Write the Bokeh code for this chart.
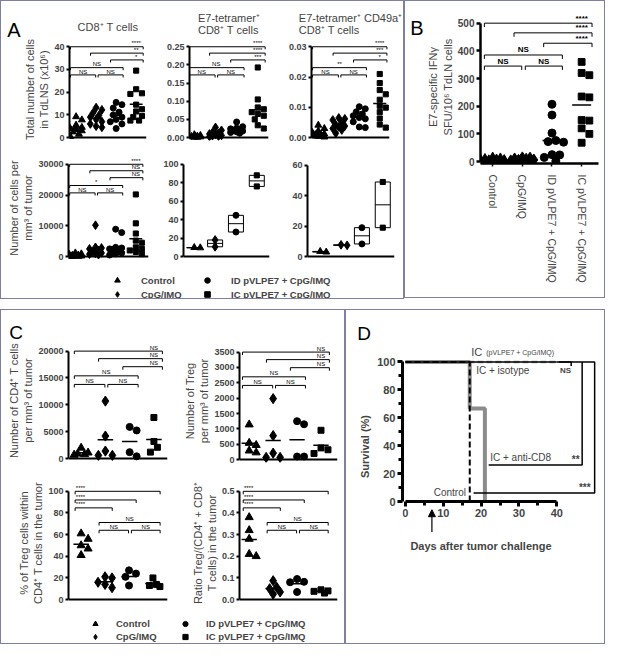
import numpy as np
from bokeh.plotting import figure
from bokeh.models import (Range1d, FixedTicker, NumeralTickFormatter, Label, Legend, Plot, Div,
                          LegendItem, Arrow, NormalHead, Spacer, Column, Row)
from bokeh.embed import file_html
from bokeh.resources import INLINE
from bokeh.core.properties import value

# ------------------------------------------------------------------ data
GROUPS = ["Control", "CpG/IMQ", "ID pVLPE7 + CpG/IMQ", "IC pVLPE7 + CpG/IMQ"]
MARKERS = ["triangle", "diamond", "circle", "square"]
PANEL_LETTERS = ["A", "B", "C", "D"]

# Panel A, top row: total number of cells in TdLNS (x10^6)
cd8_tdln = [
    [9.2, 7.8, 5.5, 4.5, 4.0, 3.5, 3.0, 2.5, 1.5, 0.5],
    [13.2, 12.2, 11.0, 9.8, 9.0, 8.0, 7.0, 6.0, 5.0, 4.5],
    [15.5, 14.5, 13.0, 11.2, 10.0, 9.0, 8.0, 7.0, 6.0, 4.0],
    [29.5, 21.3, 19.5, 19.2, 14.5, 12.5, 11.5, 9.5, 9.0, 7.5, 7.5],
]
tet_tdln = [
    [0.008, 0.006, 0.005, 0.004, 0.003, 0.003, 0.002, 0.002, 0.001, 0.001],
    [0.028, 0.020, 0.014, 0.012, 0.010, 0.008, 0.006, 0.005, 0.004, 0.003],
    [0.043, 0.030, 0.026, 0.024, 0.022, 0.020, 0.018, 0.016, 0.014, 0.012],
    [0.193, 0.105, 0.083, 0.078, 0.070, 0.065, 0.060, 0.050, 0.034, 0.025],
]
cd49a_tdln = [
    [0.0041, 0.0030, 0.0022, 0.0017, 0.0012, 0.0010, 0.0008, 0.0006, 0.0004, 0.0002],
    [0.0065, 0.0062, 0.0058, 0.0048, 0.0042, 0.0038, 0.0035, 0.0030, 0.0025, 0.0014],
    [0.0102, 0.0095, 0.0085, 0.0078, 0.0072, 0.0066, 0.0062, 0.0052, 0.0035, 0.0033],
    [0.0210, 0.0180, 0.0157, 0.0143, 0.0125, 0.0105, 0.0099, 0.0084, 0.0063, 0.0043, 0.0033],
]
# Panel A, bottom row: number of cells per mm3 of tumor
cd8_tumor = [
    [1200, 900, 700, 500, 400, 300, 200, 100, 80, 50],
    [10200, 3000, 2800, 2500, 2000, 1500, 1200, 1000, 800, 600],
    [8900, 7800, 3000, 2800, 2500, 2200, 1800, 1200, 900, 500],
    [20200, 10800, 7500, 5200, 4500, 3000, 2500, 2000, 1500, 800],
]
tet_tumor = [[9.5, 9.8], [18.0, 10.6], [44.7, 26.6], [88.0, 76.0]]
cd49a_tumor = [[3.0, 3.4], [7.4, 7.7], [19.0, 8.3], [49.0, 19.0]]

sig_cd8_tdln = ["****", "**", "*", "NS", "NS", "NS"]
sig_tet_tdln = ["****", "****", "***", "NS", "NS", "NS"]
sig_cd49a_tdln = ["****", "***", "*", "**", "NS", "NS"]
sig_cd8_tumor = ["****", "NS", "NS", "*", "NS", "NS"]

ticks_cd8_tdln = [0, 10, 20, 30, 40]
ticks_tet_tdln = [0, 0.05, 0.10, 0.15, 0.20, 0.25]
ticks_cd49a_tdln = [0, 0.01, 0.02, 0.03]
ticks_cd8_tumor = [0, 10000, 20000, 30000]
ticks_tet_tumor = [0, 20, 40, 60, 80, 100]
ticks_cd49a_tumor = [0, 20, 40, 60]

# Panel B: E7-specific IFNg SFU / 10^6 TdLN cells
ifng = [
    [15, 12, 10, 8, 6, 5, 4, 3, 2, 1],
    [14, 13, 10, 9, 6, 5, 3, 2, 1, 0],
    [207, 168, 103, 76, 72, 70, 25, 24, 15, 2],
    [360, 320, 312, 235, 232, 150, 148, 120, 100, 68],
]
sig_ifng = ["****", "****", "****", "NS", "NS", "NS"]
ticks_ifng = [0, 100, 200, 300, 400, 500]

# Panel C
cd4_tumor = [[2000, 1100, 900, 800, 700], [10700, 4200, 1400, 600, 600],
             [5900, 5240, 1200, 420], [7650, 3190, 2100, 1200]]
treg_tumor = [[1140, 540, 470, 290, 230], [1985, 780, 210, 70, 70],
              [1250, 1150, 100, 100], [955, 380, 320, 200]]
pct_treg = [[61, 56, 50, 47, 41], [21, 20, 16, 14, 11], [27, 24, 21, 13], [20, 14, 13, 12]]
ratio_treg = [[0.38, 0.32, 0.28, 0.21, 0.20], [0.087, 0.057, 0.05, 0.035, 0.025],
              [0.095, 0.082, 0.08, 0.035], [0.045, 0.04, 0.038, 0.03]]
sig_cd4 = ["NS"] * 6
sig_treg = ["NS"] * 6
sig_pct = ["****", "****", "****", "NS", "NS", "NS"]
sig_ratio = ["****", "****", "****", "NS", "NS", "NS"]
ticks_cd4 = [0, 5000, 10000, 15000, 20000]
ticks_treg = [0, 500, 1000, 1500, 2000, 2500, 3000, 3500]
ticks_pct = [0, 20, 40, 60, 80, 100]
ticks_ratio = [0, 0.1, 0.2, 0.3, 0.4, 0.5]

# Panel D: survival (%)
surv_days_ctrl = [0, 17, 17]
surv_ctrl = [100, 100, 0]
surv_days_cd8 = [0, 17, 17, 21, 21]
surv_cd8 = [100, 100, 66.7, 66.7, 0]
surv_days_iso = [0, 40]
surv_iso = [100, 100]
surv_days_ic = [0, 40]
surv_ic = [100, 100]
sig_surv = ["NS", "**", "***"]
treatment_day = 7
ticks_days = [0, 10, 20, 30, 40]
minor_days = [5, 15, 25, 35]
ticks_surv = [0, 20, 40, 60, 80, 100]
minor_surv = [10, 30, 50, 70, 90]

# ------------------------------------------------------------------ helpers
K = 0.972
FONT = "Liberation Sans"
BORDER = "1px solid #7f7f9f"
GREY = "#8c8c8c"
HAS_FRAME_ALIGN = "frame_align" in Plot.properties()


def S(v):
    return int(round(v * K))


def lin(anchor, p):
    (v0, p0), (v1, p1) = anchor
    return v0 + (p - p0) * (v1 - v0) / (p1 - p0)


def make_fig(box, frame, xa, ya):
    bl, bt, br, bb = box
    fl, ft, fr, fb = frame
    W, H = S(br - bl), S(bb - bt)
    left, top = S(fl - bl), S(ft - bt)
    right = W - left - S(fr - fl)
    bottom = H - top - S(fb - ft)
    p = figure(width=W, height=H,
               x_range=Range1d(lin(xa, fl), lin(xa, fr)),
               y_range=Range1d(lin(ya, fb), lin(ya, ft)),
               min_border_left=left, min_border_right=right,
               min_border_top=top, min_border_bottom=bottom,
               toolbar_location=None, tools="", output_backend="svg")
    if HAS_FRAME_ALIGN:
        p.frame_align = False
    p.xgrid.visible = False
    p.ygrid.visible = False
    p.outline_line_color = None
    ppx = K * (xa[1][1] - xa[0][1]) / (xa[1][0] - xa[0][0])
    ppy = K * (ya[0][1] - ya[1][1]) / (ya[1][0] - ya[0][0])
    return p, ppx, ppy


def letter_fig(box, lx, ly, text, size="20px"):
    bl, bt, br, bb = box
    w, h = br - bl, bb - bt
    if not HAS_FRAME_ALIGN:
        return Div(text=text, width=S(w), height=S(h),
                   styles={"font-family": FONT, "font-size": size, "line-height": size,
                           "padding-left": "%dpx" % S(lx - bl),
                           "padding-top": "%dpx" % max(0, S(ly - bt) - 16),
                           "box-sizing": "border-box", "color": "black"})
    f = figure(width=S(w), height=S(h), title=None,
               x_range=Range1d(0, w), y_range=Range1d(0, h),
               x_axis_type=None, y_axis_type=None, toolbar_location=None, tools="",
               output_backend="svg", min_border_left=0, min_border_right=0,
               min_border_top=0, min_border_bottom=0)
    f.frame_align = False
    f.outline_line_color = None
    f.text(x=[lx - bl], y=[bb - ly], text=[text], text_font=value(FONT),
           text_font_size=size, text_baseline="alphabetic", text_align="left",
           text_color="black")
    return f


def style_y(p, ticks, fmt, label=None, font_size="9px", lw=2, tick_out=3,
            label_size="11px", label_style="normal", standoff=1, minor=None):
    ax = p.yaxis[0]
    ax.ticker = FixedTicker(ticks=ticks, minor_ticks=minor or [])
    ax.formatter = NumeralTickFormatter(format=fmt)
    ax.bounds = (ticks[0], ticks[-1])
    ax.axis_line_width = lw
    ax.major_tick_in = 0
    ax.major_tick_out = tick_out
    ax.major_tick_line_width = lw
    ax.minor_tick_in = 0
    ax.minor_tick_out = (tick_out - 1) if minor else 0
    ax.minor_tick_line_width = lw
    ax.major_label_text_font = FONT
    ax.major_label_text_font_size = font_size
    ax.major_label_text_font_style = "bold"
    ax.major_label_standoff = 2
    if label:
        ax.axis_label = label
        ax.axis_label_text_font = FONT
        ax.axis_label_text_font_size = label_size
        ax.axis_label_text_font_style = label_style
        ax.axis_label_standoff = standoff


def style_x_plain(p, lw=2):
    ax = p.xaxis[0]
    ax.ticker = FixedTicker(ticks=[])
    ax.major_label_text_font_size = "0px"
    ax.axis_line_width = lw
    ax.major_tick_out = 0
    ax.major_tick_in = 0
    ax.minor_tick_out = 0
    ax.minor_tick_in = 0
    ax.fixed_location = 0


def swarm(center, vals, ppx, ppy, size, spread):
    order = sorted(range(len(vals)), key=lambda k: (-vals[k], k))
    maxpx = spread * ppx
    step = size * 0.5
    cands = [0.0]
    n = 1
    while n * step <= maxpx + 1e-9:
        cands += [n * step, -n * step]
        n += 1
    placed = []
    xs = [0.0] * len(vals)
    for k in order:
        py = vals[k] * ppy
        best, bestscore = 0.0, -1.0
        for c in cands:
            d = min([float(np.hypot(c - qx, py - qy)) for qx, qy in placed] or [1e9])
            if d >= size * 0.95:
                best = c
                break
            if d > bestscore:
                best, bestscore = c, d
        placed.append((best, py))
        xs[k] = center + best / ppx
    return xs


MSCALE = {"triangle": 1.15, "diamond": 1.45, "circle": 1.0, "square": 0.85}


def draw_scatter(p, data, ppx, ppy, size, half=0.32, spread=0.42, mean=True):
    for gi, vals in enumerate(data):
        m = MARKERS[gi]
        xs = swarm(gi + 1, vals, ppx, ppy, size, spread)
        p.scatter(x=xs, y=vals, marker=m, size=size * MSCALE[m],
                  fill_color="black", line_color="black")
        if mean:
            mu = float(np.mean(vals))
            p.segment(x0=[gi + 1 - half], y0=[mu], x1=[gi + 1 + half], y1=[mu],
                      line_color="black", line_width=1.5)


def draw_floating(p, data, ppx, ppy, size, half=0.36):
    for gi, vals in enumerate(data):
        lo, hi, mu = min(vals), max(vals), float(np.mean(vals))
        p.quad(left=[gi + 1 - half], right=[gi + 1 + half], bottom=[lo], top=[hi],
               fill_alpha=0, line_color="black", line_width=1)
        p.segment(x0=[gi + 1 - half], y0=[mu], x1=[gi + 1 + half], y1=[mu],
                  line_color="black", line_width=1)
    draw_scatter(p, data, ppx, ppy, size, mean=False)


# (i, j, level fraction, label position)
PATTERN_1 = [(1, 4, 0.0, "end"), (2, 4, 0.07, "end"), (3, 4, 0.145, "end"),
             (1, 3, 0.23, "mid"), (1, 2, 0.31, "mid"), (2, 3, 0.31, "mid")]
PATTERN_2 = [(1, 4, 0.0, "start"), (1, 3, 0.08, "start"), (1, 2, 0.153, "start"),
             (2, 4, 0.288, "mid"), (2, 3, 0.36, "mid"), (3, 4, 0.36, "mid")]


def draw_brackets(p, pattern, labels, top, font_size="6px", bold=False,
                  lo_off=0.28, hi_off=0.35, tick=0.028):
    spans = [[i - lo_off, j + hi_off, top * (1 - lev)] for (i, j, lev, _) in pattern]
    for a in range(len(pattern)):
        for b in range(len(pattern)):
            if a != b and pattern[a][2] == pattern[b][2] and pattern[a][1] == pattern[b][0]:
                spans[a][1] = pattern[a][1] - 0.02
                spans[b][0] = pattern[b][0] + 0.1
    xs, ys, groups = [], [], {}
    for (i, j, lev, pos), (x0, x1, y), lab in zip(pattern, spans, labels):
        xs.append([x0, x0, x1, x1])
        ys.append([y - tick * top, y, y, y - tick * top])
        if pos == "end":
            tx, al = j, "center"
        elif pos == "mid":
            tx, al = (x0 + x1) / 2, "center"
        else:
            tx, al = x0 + 0.03, "left"
        g = groups.setdefault(al, ([], [], []))
        g[0].append(tx)
        g[1].append(y + 0.004 * top)
        g[2].append(lab)
    p.multi_line(xs, ys, line_color="black", line_width=1)
    for al, (tx, ty, tt) in groups.items():
        p.text(x=tx, y=ty, text=tt, text_align=al, text_baseline="bottom",
               text_font=value(FONT), text_font_size=font_size,
               text_font_style="bold" if bold else "normal", text_color="black")


def set_title(p, text, standoff, offset):
    p.title.text = text
    p.title.align = "center"
    p.title.text_font = FONT
    p.title.text_font_size = "11px"
    p.title.text_font_style = "normal"
    p.title.standoff = standoff
    p.title.offset = offset


def make_legend(box, glyph_x, first_center, pitch, standoff, font_size):
    bl, bt, br, bb = box
    W, H = S(br - bl), S(bb - bt)
    lf = figure(width=W, height=H, x_range=Range1d(0, 1), y_range=Range1d(0, 1),
                x_axis_type=None, y_axis_type=None, toolbar_location=None, tools="",
                output_backend="svg", min_border=0)
    if HAS_FRAME_ALIGN:
        lf.frame_align = False
    lf.outline_line_color = None
    rs = [lf.scatter(x=[float("nan")], y=[float("nan")], marker=MARKERS[g],
                     size=8 * MSCALE[MARKERS[g]], fill_color="black", line_color="black")
          for g in range(4)]
    for c in range(2):
        items = [LegendItem(label=GROUPS[2 * c + r], renderers=[rs[2 * c + r]]) for r in range(2)]
        top_px = first_center - pitch / 2
        bottom_px = top_px + 2 * pitch
        vx = S(glyph_x[c] - bl) - 10
        vy = H - S(bottom_px - bt)
        lf.add_layout(Legend(items=items, location=(vx, vy), orientation="vertical",
                             border_line_color=None, background_fill_alpha=0,
                             padding=0, margin=0, spacing=0,
                             glyph_width=20, glyph_height=S(pitch), label_height=S(pitch),
                             label_standoff=standoff, label_text_font=FONT,
                             label_text_font_size=font_size, label_text_font_style="bold",
                             label_text_baseline="middle"), "center")
    return lf


# ------------------------------------------------------------------ panel A
letA = letter_fig((1, 1, 22, 150), 7, 30, PANEL_LETTERS[0])
a1, px_, py_ = make_fig((22, 1, 160, 150), (68, 39, 150, 144), ((1, 75), (4, 139)),
                        ((0, 141), (40, 47.5)))
style_y(a1, ticks_cd8_tdln, "0", label="Total number of cells\nin TdLNS (x10⁶)")
style_x_plain(a1)
set_title(a1, "CD8⁺ T cells", 12, -6)
draw_brackets(a1, PATTERN_1, sig_cd8_tdln, ticks_cd8_tdln[-1])
draw_scatter(a1, cd8_tdln, px_, py_, 6)

a2, px_, py_ = make_fig((160, 1, 283, 150), (195, 39, 276, 144), ((1, 200), (4, 265)),
                        ((0, 141), (0.25, 47.5)))
style_y(a2, ticks_tet_tdln, "0.00")
style_x_plain(a2)
set_title(a2, "E7-tetramer⁺\nCD8⁺ T cells", 5, -2)
draw_brackets(a2, PATTERN_1, sig_tet_tdln, ticks_tet_tdln[-1])
draw_scatter(a2, tet_tdln, px_, py_, 6)

a3, px_, py_ = make_fig((283, 1, 414, 150), (320, 39, 400, 144), ((1, 327), (4, 390)),
                        ((0, 141), (0.03, 47.5)))
style_y(a3, ticks_cd49a_tdln, "0.00")
style_x_plain(a3)
set_title(a3, "E7-tetramer⁺ CD49a⁺\nCD8⁺ T cells", 5, -18)
draw_brackets(a3, PATTERN_1, sig_cd49a_tdln, ticks_cd49a_tdln[-1])
draw_scatter(a3, cd49a_tdln, px_, py_, 6)

b1, px_, py_ = make_fig((1, 150, 160, 270), (70, 160, 152, 266), ((1, 77), (4, 139)),
                        ((0, 263), (30000, 168)))
style_y(b1, ticks_cd8_tumor, "0", label="Number of cells per\nmm³ of tumor")
style_x_plain(b1)
draw_brackets(b1, PATTERN_1, sig_cd8_tumor, ticks_cd8_tumor[-1])
draw_scatter(b1, cd8_tumor, px_, py_, 6)

b2, px_, py_ = make_fig((160, 150, 283, 270), (188, 160, 276, 266), ((1, 199), (4, 263)),
                        ((0, 263), (100, 168)))
style_y(b2, ticks_tet_tumor, "0")
style_x_plain(b2)
draw_floating(b2, tet_tumor, px_, py_, 6)

b3, px_, py_ = make_fig((283, 150, 414, 270), (315, 160, 404, 266), ((1, 328), (4, 392)),
                        ((0, 263), (60, 169)))
style_y(b3, ticks_cd49a_tumor, "0")
style_x_plain(b3)
draw_floating(b3, cd49a_tumor, px_, py_, 6)

legA = make_legend((1, 270, 414, 306), (120, 213), 288, 14, 14, "9.5px")

panelA = Column(children=[Row(children=[letA, a1, a2, a3]), Row(children=[b1, b2, b3]), legA],
                styles={"border": BORDER})

# ------------------------------------------------------------------ panel B
letB = letter_fig((416, 1, 436, 306), 421, 28, PANEL_LETTERS[1])
pb, px_, py_ = make_fig((436, 1, 621, 306), (490, 10, 616, 167), ((1, 503), (4, 598)),
                        ((0, 165), (500, 23)))
style_y(pb, ticks_ifng, "0", label="E7-specific IFNγ\nSFU/10⁶ TdLN cells", font_size="10px",
        lw=2.5, tick_out=4, standoff=1)
axb = pb.xaxis[0]
axb.ticker = FixedTicker(ticks=[1, 2, 3, 4])
axb.major_label_overrides = {i + 1: g for i, g in enumerate(GROUPS)}
axb.major_label_orientation = "vertical"
axb.major_label_text_font = FONT
axb.major_label_text_font_size = "10.5px"
axb.major_label_standoff = 8
axb.axis_line_width = 2.5
axb.major_tick_in = 0
axb.major_tick_out = 3
axb.major_tick_line_width = 1.5
axb.minor_tick_out = 0
axb.minor_tick_in = 0
draw_brackets(pb, PATTERN_1, sig_ifng, ticks_ifng[-1], font_size="8px", bold=True)
draw_scatter(pb, ifng, px_, py_, 8, spread=0.45)
panelB = Column(children=[Row(children=[letB, pb])], styles={"border": BORDER})

# ------------------------------------------------------------------ panel C
letC = letter_fig((1, 319, 183, 349), 9, 342, PANEL_LETTERS[2], size="19px")
c1, px_, py_ = make_fig((1, 349, 183, 489), (70, 349, 172, 475), ((1, 83), (4, 158)),
                        ((0, 472), (20000, 361)))
style_y(c1, ticks_cd4, "0", label="Number of CD4⁺ T cells\nper mm³ of tumor")
style_x_plain(c1)
draw_brackets(c1, PATTERN_1, sig_cd4, ticks_cd4[-1])
draw_scatter(c1, cd4_tumor, px_, py_, 7)

c2, px_, py_ = make_fig((183, 319, 354, 489), (246, 349, 347, 476), ((1, 256), (4, 330)),
                        ((0, 473), (3500, 362)))
style_y(c2, ticks_treg, "0", label="Number of Treg\nper mm³ of tumor")
style_x_plain(c2)
draw_brackets(c2, PATTERN_1, sig_treg, ticks_treg[-1])
draw_scatter(c2, treg_tumor, px_, py_, 7)

c3, px_, py_ = make_fig((1, 489, 183, 630), (70, 497, 172, 619), ((1, 83), (4, 157)),
                        ((0, 616), (100, 505)))
style_y(c3, ticks_pct, "0", label="% of Treg cells within\nCD4⁺ T cells in the tumor")
style_x_plain(c3)
draw_brackets(c3, PATTERN_2, sig_pct, ticks_pct[-1], lo_off=0.25, hi_off=0.3)
draw_scatter(c3, pct_treg, px_, py_, 7)

c4, px_, py_ = make_fig((183, 489, 354, 630), (246, 497, 347, 619), ((1, 256), (4, 330)),
                        ((0, 616), (0.5, 505)))
style_y(c4, ticks_ratio, "0.0", label="Ratio Treg/(CD4⁺ + CD8⁺\nT cells) in the tumor")
style_x_plain(c4)
draw_brackets(c4, PATTERN_2, sig_ratio, ticks_ratio[-1], lo_off=0.25, hi_off=0.3)
draw_scatter(c4, ratio_treg, px_, py_, 7)

legC = make_legend((1, 630, 354, 662), (98, 190), 642, 13, 11, "9.5px")

panelC = Column(children=[Row(children=[Column(children=[letC, c1]), c2]),
                          Row(children=[c3, c4]), legC],
                styles={"border": BORDER})

# ------------------------------------------------------------------ panel D
letD = letter_fig((356, 319, 621, 350), 367, 343, PANEL_LETTERS[3], size="19px")
xa_, ya_ = ((0, 417), (40, 573)), ((0, 516), (100, 372))
pdd, _, _ = make_fig((356, 350, 621, 662), (414, 350, 617, 568), xa_, ya_)
style_y(pdd, ticks_surv, "0", label="Survival (%)", font_size="11px", lw=3, tick_out=5,
        label_size="11px", label_style="bold", standoff=3, minor=minor_surv)
axd = pdd.xaxis[0]
axd.ticker = FixedTicker(ticks=ticks_days, minor_ticks=minor_days)
axd.formatter = NumeralTickFormatter(format="0")
axd.bounds = (ticks_days[0], ticks_days[-1])
axd.fixed_location = 0
axd.axis_line_width = 3
axd.major_tick_in = 0
axd.major_tick_out = 5
axd.major_tick_line_width = 3
axd.minor_tick_in = 0
axd.minor_tick_out = 4
axd.minor_tick_line_width = 3
axd.major_label_text_font = FONT
axd.major_label_text_font_size = "11px"
axd.major_label_text_font_style = "bold"
axd.major_label_standoff = 2
axd.axis_label = "Days after tumor challenge"
axd.axis_label_text_font = FONT
axd.axis_label_text_font_size = "11px"
axd.axis_label_text_font_style = "bold"
axd.axis_label_standoff = 20

pdd.line(surv_days_cd8, surv_cd8, line_color=GREY, line_width=4)
pdd.line(surv_days_iso, surv_iso, line_color="#9a9a9a", line_width=2.5, line_dash="6 3")
pdd.line(surv_days_ic, surv_ic, line_color="black", line_width=1.5)
pdd.line(surv_days_ctrl, surv_ctrl, line_color="black", line_width=2, line_dash="6 3")
# significance connectors
end_day = surv_days_ic[-1]
pdd.multi_line(
    [[end_day, 50, 50, 18], [46.7, 46.7, 22], [end_day + 0.5, 43.8, 43.8]],
    [[100, 100, 6.3, 6.3], [100, 26.4, 26.4], [100, 100, 97]],
    line_color="black", line_width=1.5)
for x, y, txt, size, style, al in [
    (42.3, 93.5, sig_surv[0], "8px", "bold", "center"),
    (45.0, 30.0, sig_surv[1], "10px", "bold", "center"),
    (47.4, 10.5, sig_surv[2], "10px", "bold", "center"),
]:
    pdd.add_layout(Label(x=x, y=y, text=txt, text_font=FONT, text_font_size=size,
                         text_font_style=style, text_align=al, text_baseline="middle"))
pdd.add_layout(Label(x=17.4, y=107, text="IC", text_font=FONT, text_font_size="11px",
                     text_baseline="middle"))
pdd.add_layout(Label(x=17.4, y=107, x_offset=15, text="(pVLPE7 + CpG/IMQ)", text_font=FONT,
                     text_font_size="7px", text_baseline="middle"))
pdd.add_layout(Label(x=18.7, y=94.0, text="IC + isotype", text_font=FONT,
                     text_font_size="10px", text_baseline="middle"))
pdd.add_layout(Label(x=22.4, y=31.5, text="IC + anti-CD8", text_font=FONT,
                     text_font_size="10px", text_baseline="middle"))
pdd.add_layout(Label(x=16.0, y=7.0, text="Control", text_font=FONT, text_font_size="10px",
                     text_align="right", text_baseline="middle"))
pdd.add_layout(Arrow(end=NormalHead(size=7, fill_color="black", line_color="black"),
                     x_start=treatment_day, y_start=lin(ya_, 547), x_end=treatment_day,
                     y_end=lin(ya_, 524), line_width=1.2, line_color="black"))
panelD = Column(children=[letD, pdd], styles={"border": BORDER})

root = Column(children=[Row(children=[panelA, panelB]),
                        Spacer(width=10, height=S(10)),
                        Row(children=[panelC, panelD])])

open("out.html", "w").write(file_html(root, INLINE))
